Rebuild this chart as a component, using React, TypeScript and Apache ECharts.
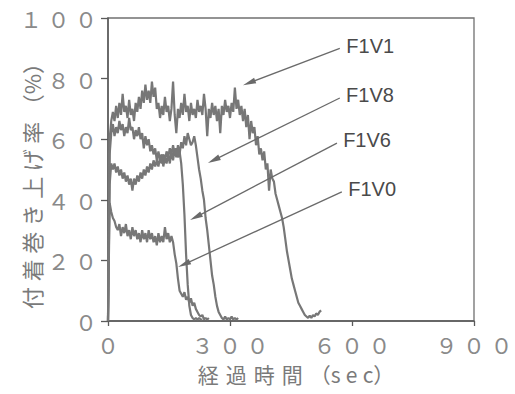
import React, { useEffect, useRef } from "react";
import * as echarts from "echarts";

const TIME_STEP = 4; // seconds between samples
const X_TICKS = [0, 300, 600, 900];
const Y_TICKS = [0, 20, 40, 60, 80, 100];
const SERIES_NAMES = ["F1V1", "F1V8", "F1V6", "F1V0"];

const F1V1 = [
  0, 60, 66, 69, 66, 71, 67, 72, 68, 75, 69, 71, 67, 73, 68, 70, 66, 72, 69, 74,
  70, 76, 72, 78, 73, 76, 72, 79, 74, 77, 70, 72, 67, 71, 68, 74, 69, 71, 66, 70,
  79, 68, 62, 70, 67, 72, 68, 75, 69, 71, 66, 72, 68, 70, 67, 73, 69, 71, 68, 75,
  70, 61, 70, 67, 72, 68, 71, 66, 70, 62, 71, 68, 73, 69, 71, 67, 72, 69, 77, 70,
  73, 68, 71, 66, 70, 64, 68, 60, 66, 62, 64, 58, 61, 55, 57, 53, 56, 50, 52, 43,
  50, 47, 46, 42, 40, 38, 36, 34, 31, 27, 23, 20, 17, 14, 12, 10, 8, 6, 5, 4,
  3, 2, 1.5, 1, 1.8, 1, 2, 1.5, 2.5, 2, 3, 3.5,
];
const F1V8 = [
  0, 55, 62, 65, 61, 64, 62, 66, 63, 65, 61, 64, 62, 67, 63, 64, 60, 63, 61, 64,
  60, 62, 57, 61, 58, 60, 56, 58, 55, 57, 53, 56, 53, 55, 51, 54, 52, 55, 52, 56,
  53, 57, 54, 58, 55, 59, 57, 61, 58, 62, 60, 58, 59, 61, 58, 54, 50, 47, 43, 40,
  34, 30, 25, 20, 15, 12, 8, 5, 3, 2, 1, 0.5, 1.5, 0.5, 1, 0.5, 1.5, 0.5, 1, 0.5,
  1,
];
const F1V6 = [
  0, 45, 52, 50, 52, 49, 51, 48, 50, 47, 49, 46, 48, 45, 47, 43, 47, 45, 48, 46,
  49, 47, 50, 48, 51, 49, 52, 50, 53, 51, 53, 51, 54, 52, 55, 53, 56, 54, 57, 55,
  58, 55, 57, 54, 56, 52, 45, 35, 22, 12, 5, 2, 1, 0.5, 1, 0.5, 1, 0.5, 0.5,
];
const F1V0 = [
  0, 39, 36, 34, 33, 31, 30, 32, 28, 31, 29, 32, 28, 30, 27, 31, 28, 30, 27, 29,
  26, 30, 27, 29, 26, 30, 27, 29, 26, 28, 25, 29, 26, 28, 26, 31, 27, 29, 26, 28,
  26, 22, 19, 14, 10, 9, 8, 9.5, 7, 8, 6, 7.5, 5, 6, 4, 3, 2, 1.5, 2, 0.5,
  1, 0.5, 1,
];
const SERIES_VALUES = [F1V1, F1V8, F1V6, F1V0];

// annotation arrows: [from (label end), to (arrow head centre)] in data units
const ARROWS = [
  [[570, 90], [347, 78.6]],
  [[570, 73.6], [260, 53.1]],
  [[563, 58.7], [216, 34.3]],
  [[575, 42.6], [187, 18.7]],
];

const X_NAME = "経\u2004過\u2004時\u2004間\u2004（s\u2005e\u2005c）";
const Y_NAME = "付\u2005着\u2005巻\u2005き\u2005上\u2005げ\u2005率\u2005（%）";

const FW = "０１２３４５６７８９";
const toFullWidth = (n: number) =>
  String(n)
    .split("")
    .map((c) => FW[Number(c)])
    .join("\u2005");

const CJK = "'Noto Sans CJK JP', 'DejaVu Sans', sans-serif";

export default function App() {
  const ref = useRef<HTMLDivElement>(null);
  useEffect(() => {
    if (!ref.current) return;
    const chart = echarts.init(ref.current, undefined, { renderer: "svg" });
    const series = SERIES_NAMES.map((name, k) => ({
      name,
      type: "line" as const,
      showSymbol: false,
      symbol: "none",
      data: SERIES_VALUES[k].map((v, i) => [i * TIME_STEP, v]),
      lineStyle: { color: "#777777", width: 2.2 },
      z: 2,
      markLine: {
        silent: true,
        animation: false,
        symbol: ["none", "triangle"],
        symbolSize: [6, 13],
        lineStyle: { color: "#6a6a6a", width: 1.3, type: "solid" },
        label: {
          show: true,
          position: "start",
          distance: 7,
          formatter: name,
          color: "#4a4a4a",
          fontSize: 20,
          fontFamily: "'Liberation Sans', Arial, sans-serif",
        },
        data: [
          [
            { coord: ARROWS[k][0] },
            { coord: ARROWS[k][1] },
          ],
        ],
      },
    }));
    chart.setOption({
      animation: false,
      grid: {
        left: 108,
        top: 18,
        width: 366,
        height: 303,
        containLabel: false,
        outerBoundsMode: "none",
        show: true,
        borderColor: "#707070",
        borderWidth: 1.3,
      },
      xAxis: {
        type: "value",
        min: X_TICKS[0],
        max: X_TICKS[X_TICKS.length - 1],
        interval: X_TICKS[1] - X_TICKS[0],
        name: X_NAME,
        nameLocation: "middle",
        nameGap: 42,
        nameMoveOverlap: false,
        nameTextStyle: { fontSize: 21, color: "#7a7a7a", fontFamily: CJK, padding: [0, 0, 0, 10] },
        axisLine: { lineStyle: { color: "#5a5a5a", width: 1.5 } },
        axisTick: { length: 5, lineStyle: { color: "#5a5a5a", width: 1.3 } },
        splitLine: { show: false },
        axisLabel: {
          margin: 12,
          fontSize: 22,
          color: "#8a8a8a",
          fontFamily: CJK,
          formatter: (v: number) => toFullWidth(v),
        },
      },
      yAxis: {
        type: "value",
        min: Y_TICKS[0],
        max: Y_TICKS[Y_TICKS.length - 1],
        interval: Y_TICKS[1] - Y_TICKS[0],
        name: Y_NAME,
        nameLocation: "middle",
        nameRotate: 90,
        nameGap: 66,
        nameMoveOverlap: false,
        nameTextStyle: {
          fontSize: 22,
          color: "#7a7a7a",
          fontFamily: CJK,
          padding: [0, 22, 0, 0],
        },
        axisLine: { show: true, lineStyle: { color: "#5a5a5a", width: 1.5 } },
        axisTick: { show: true, length: 7, lineStyle: { color: "#5a5a5a", width: 1.3 } },
        splitLine: { show: false },
        axisLabel: {
          margin: 11,
          fontSize: 22,
          color: "#8a8a8a",
          fontFamily: CJK,
          formatter: (v: number) => toFullWidth(v),
        },
      },
      series,
    });
    return () => chart.dispose();
  }, []);
  return (
    <div
      ref={ref}
      style={{ position: "fixed", left: 0, top: 0, width: 515, height: 394, background: "#fff" }}
    />
  );
}
